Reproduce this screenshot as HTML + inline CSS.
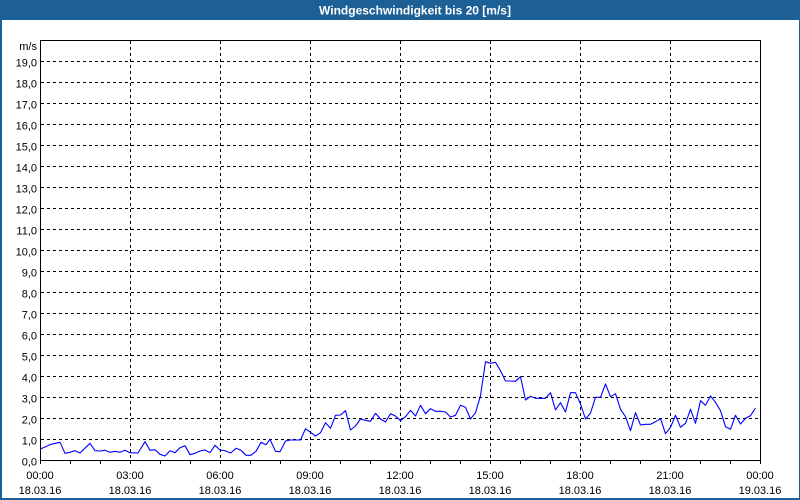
<!DOCTYPE html>
<html><head><meta charset="utf-8"><style>
html,body{margin:0;padding:0;background:#fff;}
svg{display:block;}
text{font-family:"Liberation Sans",Arial,sans-serif;font-size:11px;fill:#000;}
</style></head><body>
<svg width="800" height="500" viewBox="0 0 800 500" xmlns="http://www.w3.org/2000/svg">
<rect x="0" y="0" width="800" height="500" fill="#ffffff"/>
<rect x="0" y="0" width="800" height="20" fill="#1c6096"/>
<rect x="0" y="20" width="2" height="480" fill="#1c6096"/>
<rect x="799" y="20" width="1" height="480" fill="#1c6096"/>
<rect x="0" y="498" width="800" height="2" fill="#1c6096"/>
<text x="415" y="14.5" text-anchor="middle" style="font-weight:bold;fill:#fff;font-size:12px">Windgeschwindigkeit bis 20 [m/s]</text>

<g stroke="#000" stroke-width="1" stroke-dasharray="3,3" fill="none" shape-rendering="crispEdges">
<path d="M41 61.5H760M41 82.5H760M41 103.5H760M41 124.5H760M41 145.5H760M41 166.5H760M41 187.5H760M41 208.5H760M41 229.5H760M41 250.5H760M41 271.5H760M41 292.5H760M41 313.5H760M41 334.5H760M41 355.5H760M41 376.5H760M41 397.5H760M41 418.5H760M41 439.5H760"/>
<path d="M130.5 41V464M220.5 41V464M310.5 41V464M400.5 41V464M490.5 41V464M580.5 41V464M670.5 41V464"/>
</g>
<g stroke="#000" stroke-width="1" fill="none" shape-rendering="crispEdges">
<rect x="40.5" y="40.5" width="720" height="420"/>
<path d="M40.5 460V464M70.5 460V464M100.5 460V464M160.5 460V464M190.5 460V464M250.5 460V464M280.5 460V464M340.5 460V464M370.5 460V464M430.5 460V464M460.5 460V464M520.5 460V464M550.5 460V464M610.5 460V464M640.5 460V464M700.5 460V464M730.5 460V464M760.5 460V464"/>
</g>

<polyline fill="none" stroke="#0000ff" stroke-width="1.1" stroke-linejoin="round" points="40.5,449 51,444.3 60,442.3 65,453.3 70,452.3 75,450.7 80,453 90,443.3 95,450.7 100,451 105,450.3 110,452.3 115,451.3 120,452.3 125,450.3 130,452.7 138,453 145,441.7 150,450.3 155,449.7 160,454.3 165,456 170,450.7 175,452.7 180,447.7 185,445.7 190,454.7 195,453.3 200,451 205,450 210,452.7 215,445.3 220,450 225,450.7 230.7,453 236,448.3 241,450.3 246,455.3 251,455.3 256,451.3 261,442.3 266,444.7 270,439.3 275.5,451.3 280,451.7 285.5,441 290.5,440 300.5,440 305.5,428.7 310.5,432.3 315.5,436 320.5,432.7 325.5,422.7 330.5,428.3 335.5,415.3 340.5,415 345.5,410.7 350.5,430 355.5,426 360.5,419 365.5,420.3 370.5,421.3 375.5,413.3 380.5,419 385.5,422 390.5,413.7 395.5,416 400.5,420.7 405.5,416.7 410.5,410.3 415.5,416 420.5,405.3 425.5,413.7 430.5,408.7 435.5,411.3 440.5,411.3 445.5,412 450.5,417 455.5,415.3 460.5,405.3 465.5,407.3 470.5,419 475.5,412.7 480.5,395.7 485.5,361.7 490.5,363.3 495.5,362.3 500.5,370.7 505.5,381 510.5,381 515.5,381.3 520.5,376.7 525.5,400 530.5,396.3 535.5,398.3 540.5,398.3 545.5,398.3 550.5,392.7 555.5,410 560.5,402.7 565.5,412 570.5,392.7 575.5,392.7 580.5,404 585.5,419 590.5,413 595.5,397.3 600.5,397.3 605.5,384 610.5,396.7 615.5,393.7 620.5,409.3 625.5,416.7 630.5,430.7 635.5,412.7 640.5,425 645.5,424.3 650.5,424.3 655.5,421.7 660.5,418.7 665.5,433.7 670.5,427.3 675.5,415.3 680.5,427.3 685.5,423.3 690.5,409.3 695.5,423.3 700.5,400.7 705.5,405.3 710.5,396 715.5,402.3 720.5,410.7 725.5,426.7 730.5,429.3 735.5,415.3 740.5,424 745.5,418.3 750.5,415.7 755.5,408"/>

<g text-anchor="end">
<text x="37" y="50">m/s</text>
<text x="37" y="66.5">19,0</text>
<text x="37" y="87.5">18,0</text>
<text x="37" y="108.5">17,0</text>
<text x="37" y="129.5">16,0</text>
<text x="37" y="150.5">15,0</text>
<text x="37" y="171.5">14,0</text>
<text x="37" y="192.5">13,0</text>
<text x="37" y="213.5">12,0</text>
<text x="37" y="234.5">11,0</text>
<text x="37" y="255.5">10,0</text>
<text x="37" y="276.5">9,0</text>
<text x="37" y="297.5">8,0</text>
<text x="37" y="318.5">7,0</text>
<text x="37" y="339.5">6,0</text>
<text x="37" y="360.5">5,0</text>
<text x="37" y="381.5">4,0</text>
<text x="37" y="402.5">3,0</text>
<text x="37" y="423.5">2,0</text>
<text x="37" y="444.5">1,0</text>
<text x="37" y="465.5">0,0</text>
</g>
<g text-anchor="middle">
<text x="40" y="479">00:00</text><text x="40" y="494">18.03.16</text>
<text x="130" y="479">03:00</text><text x="130" y="494">18.03.16</text>
<text x="220" y="479">06:00</text><text x="220" y="494">18.03.16</text>
<text x="310" y="479">09:00</text><text x="310" y="494">18.03.16</text>
<text x="400" y="479">12:00</text><text x="400" y="494">18.03.16</text>
<text x="490" y="479">15:00</text><text x="490" y="494">18.03.16</text>
<text x="580" y="479">18:00</text><text x="580" y="494">18.03.16</text>
<text x="670" y="479">21:00</text><text x="670" y="494">18.03.16</text>
<text x="760" y="479">00:00</text><text x="760" y="494">19.03.16</text>
</g>
</svg>
</body></html>
